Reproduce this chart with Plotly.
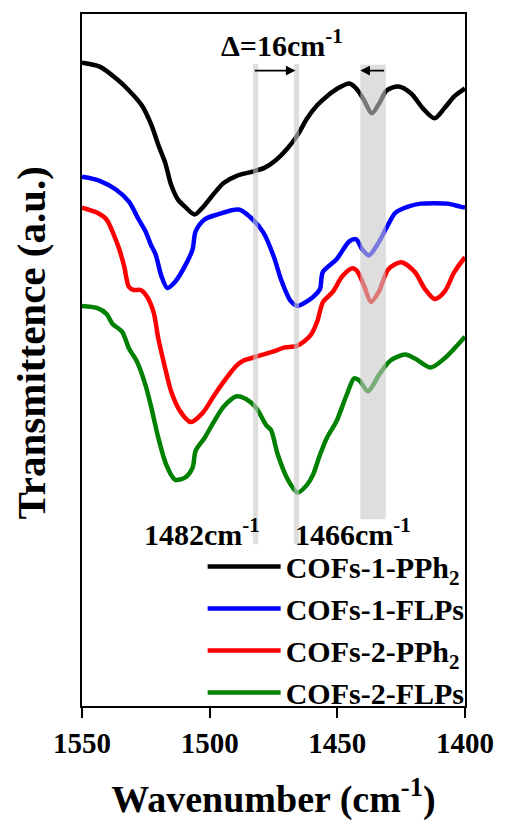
import plotly.graph_objects as go

# ---- data (wavenumber in cm^-1, transmittance in arbitrary units) ----
wn_c1pph2 = [1550.0, 1543.1, 1536.6, 1531.6, 1526.6, 1522.8, 1520.1, 1517.4, 1515.1, 1512.4,
             1509.3, 1505.9, 1502.8, 1499.0, 1494.4, 1489.4, 1483.6, 1478.6, 1474.0, 1469.4,
             1465.6, 1461.8, 1457.9, 1453.7, 1449.9, 1445.3, 1442.6, 1439.5, 1436.5, 1433.4,
             1430.7, 1426.1, 1421.1, 1416.5, 1411.9, 1408.1, 1404.2, 1400.0]
t_c1pph2 = [648, 644, 632, 620, 605, 585, 565, 547, 525, 510,
            502, 495, 502, 514, 527, 534, 538, 542, 550, 562,
            575, 592, 605, 615, 622, 627, 622, 610, 597, 608,
            620, 624, 617, 602, 592, 602, 614, 622]

wn_c1flps = [1550.0, 1543.1, 1536.6, 1531.6, 1527.8, 1525.1, 1523.1, 1521.2, 1518.9, 1516.6,
             1513.6, 1509.7, 1506.7, 1505.5, 1502.0, 1497.1, 1488.6, 1484.4, 1479.0, 1474.8,
             1472.1, 1468.3, 1465.6, 1459.5, 1456.8, 1455.7, 1450.3, 1445.3, 1442.6, 1440.3,
             1437.6, 1433.8, 1430.7, 1427.2, 1422.3, 1417.3, 1406.9, 1401.9, 1400.0]
t_c1flps = [533, 529, 520, 508, 490, 478, 465, 455, 433, 421,
            427, 443, 460, 478, 490, 495, 500, 493, 477, 452,
            430, 408, 403, 412, 420, 437, 450, 468, 470, 460,
            454, 467, 482, 497, 503, 506, 506, 503, 502]

wn_c2pph2 = [1550.0, 1544.2, 1540.4, 1537.3, 1535.4, 1533.5, 1531.6, 1529.7, 1527.0, 1524.7,
             1522.0, 1520.1, 1517.4, 1515.1, 1511.6, 1507.4, 1502.8, 1498.2, 1494.4, 1489.4,
             1486.7, 1482.9, 1474.0, 1471.0, 1465.6, 1460.6, 1457.9, 1455.6, 1451.8, 1448.0,
             1444.1, 1442.2, 1439.5, 1436.8, 1433.8, 1430.0, 1425.0, 1419.6, 1415.7, 1411.9,
             1408.1, 1404.2, 1400.0]
t_c2pph2 = [502, 497, 490, 473, 460, 443, 422, 419, 419, 413,
            397, 370, 340, 317, 297, 286, 295, 313, 327, 343,
            348, 351, 358, 361, 363, 373, 387, 407, 417, 433,
            441, 438, 423, 407, 417, 440, 447, 437, 420, 410,
            417, 437, 452]

wn_c2flps = [1550.0, 1544.2, 1540.4, 1538.1, 1534.3, 1531.6, 1528.5, 1525.1, 1522.8, 1520.1,
             1517.0, 1513.6, 1509.7, 1506.7, 1505.5, 1502.0, 1498.2, 1494.4, 1489.4, 1485.6,
             1481.7, 1477.9, 1476.0, 1473.3, 1469.4, 1465.6, 1461.8, 1459.5, 1456.8, 1454.1,
             1450.3, 1446.4, 1443.4, 1441.4, 1438.0, 1433.8, 1429.2, 1423.4, 1419.6, 1413.4,
             1408.1, 1404.2, 1400.0]
t_c2flps = [403, 401, 395, 385, 377, 360, 347, 323, 300, 270,
            243, 228, 230, 240, 257, 270, 287, 302, 312, 309,
            300, 283, 278, 253, 228, 215, 223, 233, 253, 270,
            287, 313, 330, 328, 317, 333, 348, 354, 350, 341,
            350, 360, 372]

series_names = ["COFs-1-PPh<sub>2</sub>", "COFs-1-FLPs", "COFs-2-PPh<sub>2</sub>", "COFs-2-FLPs"]
series_colors = ["#000000", "#0000FF", "#FF0000", "#008000"]
xticks = [1550, 1500, 1450, 1400]

# marked bands (cm^-1)
band_1482 = [1481.0, 1483.0]
band_1466 = [1465.0, 1467.0]
band_wide = [1431.0, 1441.0]

FONT = "Liberation Serif"

fig = go.Figure()
for wn, t, name, col in zip([wn_c1pph2, wn_c1flps, wn_c2pph2, wn_c2flps],
                            [t_c1pph2, t_c1flps, t_c2pph2, t_c2flps],
                            series_names, series_colors):
    fig.add_trace(go.Scatter(x=wn, y=t, mode="lines", name=name,
                             line=dict(color=col, width=4.5, shape="spline", smoothing=0.8),
                             legendgroup=name))

band_fill = "rgba(200,200,200,0.6)"
for (a, b), top, bot in [(band_1482, 647, 163), (band_1466, 647, 163), (band_wide, 646, 188)]:
    fig.add_shape(type="rect", xref="x", yref="y", x0=a, x1=b, y0=bot, y1=top,
                  fillcolor=band_fill, line=dict(width=0), layer="above")

# arrows
fig.add_annotation(x=1466.4, y=640, ax=1482.9, ay=640, xref="x", yref="y", axref="x", ayref="y",
                   text="", showarrow=True, arrowhead=2, arrowsize=1.2, arrowwidth=1.6, arrowcolor="black")
fig.add_annotation(x=1441.0, y=640, ax=1431.1, ay=640, xref="x", yref="y", axref="x", ayref="y",
                   text="", showarrow=True, arrowhead=2, arrowsize=1.2, arrowwidth=1.6, arrowcolor="black")

bold = dict(family=FONT, size=30, color="black")
fig.add_annotation(x=1496.3, y=668, xref="x", yref="y", xanchor="left", yanchor="middle",
                   text="<b>Δ=16cm<sup>-1</sup></b>", showarrow=False, font=bold)
fig.add_annotation(x=1526.6, y=175, xref="x", yref="y", xanchor="left", yanchor="middle",
                   text="<b>1482cm<sup>-1</sup></b>", showarrow=False, font=bold)
fig.add_annotation(x=1467.5, y=175, xref="x", yref="y", xanchor="left", yanchor="middle",
                   text="<b>1466cm<sup>-1</sup></b>", showarrow=False, font=bold)

# y-axis title
fig.add_annotation(x=-0.133, y=0.524, xref="paper", yref="paper", textangle=-90,
                   xanchor="center", yanchor="middle",
                   text="<b>Transmittence (a.u.)</b>", showarrow=False,
                   font=dict(family=FONT, size=41, color="black"))

fig.update_layout(
    width=506, height=825,
    margin=dict(l=82, r=33, t=13, b=115),
    plot_bgcolor="white", paper_bgcolor="white",
    showlegend=True,
    legend=dict(x=0.315, y=0.239, xanchor="left", yanchor="top",
                bgcolor="rgba(0,0,0,0)", borderwidth=0, tracegroupgap=0,
                font=dict(family=FONT, size=30, color="black", weight="bold"), itemwidth=73),
    xaxis=dict(range=[1550, 1400], tickvals=xticks, ticktext=[f"<b>{v}</b>" for v in xticks],
               ticks="outside", ticklen=10, tickwidth=2, tickcolor="black",
               showline=True, linewidth=2, linecolor="black", mirror=True,
               showgrid=False, zeroline=False,
               tickfont=dict(family=FONT, size=29, color="black"),
               title=dict(text="<b>Wavenumber (cm<sup>-1</sup>)</b>", standoff=28,
                          font=dict(family=FONT, size=38, color="black"))),
    yaxis=dict(range=[0, 697], showticklabels=False, ticks="",
               showline=True, linewidth=2, linecolor="black", mirror=True,
               showgrid=False, zeroline=False),
)

fig.write_html("out.html")
